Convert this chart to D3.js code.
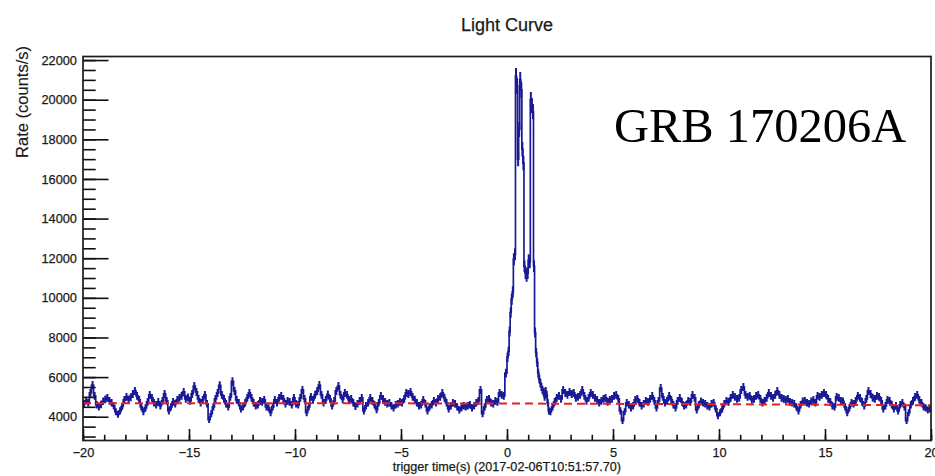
<!DOCTYPE html>
<html><head><meta charset="utf-8">
<script src="https://cdn.jsdelivr.net/npm/d3@7"></script>
<style>body{margin:0;background:#fff}</style>
</head><body><svg id="c" width="935" height="476"></svg>
<script>
// light curve, counts/s; pre-burst bins (-20 .. 0 s, 0.1 s)
const preBurst = [
4650,4820,4700,5200,5600,5050,4600,4500,4620,4780,
4880,4950,4800,4700,4550,4250,4120,4300,4520,4850,
5000,4880,4980,5150,5300,5050,4850,4500,4250,4450,
4750,5100,4950,4700,4600,4750,4550,4800,5150,4800,
4300,4500,4750,4650,4850,4950,5050,5250,4900,4980,
4800,5150,5550,5250,4900,4700,4850,5100,4650,3850,
4150,4500,4900,5200,5580,5100,4900,4650,4500,5000,
5780,5300,4850,4700,4400,4500,4700,4950,5200,4950,
4700,4550,4600,4800,4750,4850,4500,4450,4200,4500,
4850,4700,4950,5050,4900,4650,4800,4750,4600,4950,
4650,4600,4950,5350,4900,4200,4500,5000,4850,5100,
5300,5600,5100,4700,4850,5120,4900,4550,4800,5300,
5550,5100,4870,5200,5100,4850,4900,4700,4530,4650,
4800,4950,4300,4550,4700,4950,4800,4600,4360,4700,
5050,4900,4750,4650,4700,4550,4450,4600,4650,4750,
4700,4900,5200,5150,5250,5000,4870,4700,4550,4600,
4850,4650,4300,4500,4600,4800,4700,4900,5000,5200,
4950,4700,4400,4550,4700,4650,4500,4350,4450,4550,
4500,4550,4600,4450,4550,4700,4800,5350,4150,4500,
4850,4900,4700,4650,4800,4750,5200,5100,5050,6200];
// burst bins (0 .. 2 s, 0.05 s)
const burst = [
7000,7300,8300,9260,9930,10300,11950,12200,21200,20700,
17000,18500,21000,20500,17500,16800,11600,11250,11100,11250,
11900,11800,20000,19700,19400,11600,8250,7240,6740,6200,
5900,5700,5500,5350,5250,5000,5300,5100,4700,4300];
// post-burst bins (2 .. 20 s, 0.1 s)
const postBurst = [
4250,4500,4750,4950,5050,4900,5350,5200,5100,5250,
5150,5200,4950,5000,5100,5350,5050,4800,4950,5200,
5100,4950,4850,4700,4800,4900,4950,4750,4850,4900,
5050,5100,4900,4300,3800,4250,4700,4600,4450,4550,
4850,4900,4700,4550,4650,4800,4750,4900,5050,4800,
4450,4800,5450,5000,4700,4800,5050,4850,4600,4450,
4800,4950,4750,4550,4600,4800,4750,5100,4950,4350,
4600,4780,4700,4650,4550,4500,4650,4700,4400,4050,
4200,4400,4650,4800,4750,4950,5100,5000,4900,4950,
5350,5500,5100,5000,5050,4850,4900,5050,5100,4900,
4700,4800,4950,5200,5050,4950,5100,5300,5100,4950,
4900,4850,4900,4750,4700,4650,4500,4300,4600,4780,
4800,4700,4650,4780,4850,4700,5050,5000,5100,5200,
5100,4900,4750,4550,4500,5000,4950,4800,4780,4500,
4200,4450,4700,4650,4800,5050,4950,4750,4550,4900,
5300,5150,4950,4900,5050,5000,4800,4400,4550,4850,
4800,4600,4400,4550,4300,4600,4700,4500,3800,4200,
4600,4800,5000,5100,4850,4700,4500,4450,4350,4400];
const segments = [
  {values: preBurst, start: -20, dt: 0.1},
  {values: burst, start: 0, dt: 0.05},
  {values: postBurst, start: 2, dt: 0.1}
];
// background fit (red dashed)
const bkgT = [-20, -10, 0, 10, 20];
const bkgV = [4685, 4680, 4665, 4630, 4575];
const xTickValues = [-20, -15, -10, -5, 0, 5, 10, 15, 20];
const yTickValues = [4000, 6000, 8000, 10000, 12000, 14000, 16000, 18000, 20000, 22000];
const title = "Light Curve";
const xTitle = "trigger time(s) (2017-02-06T10:51:57.70)";
const yTitle = "Rate (counts/s)";
const label = "GRB 170206A";

const SANS = "'Liberation Sans', Arial, Helvetica, sans-serif";
const SERIF = "'Liberation Serif', 'Times New Roman', Times, serif";
const svg = d3.select("#c");
const L = 83, R = 931, T = 56.5, B = 440.5;
const x = d3.scaleLinear([-20, 20], [L, R]);
const y = d3.scaleLinear([2800, 22180], [B, T]);

svg.append("rect").attr("width", 935).attr("height", 476).attr("fill", "#fff");
svg.append("defs").append("clipPath").attr("id", "clip")
  .append("rect").attr("x", L).attr("y", T).attr("width", R - L).attr("height", B - T);

const bins = [];
segments.forEach(s => s.values.forEach((v, i) => bins.push({x0: s.start + i * s.dt, x1: s.start + (i + 1) * s.dt, v})));
const exposure = 0.13;
const err = v => Math.sqrt(v * exposure) / exposure;
const BLUE = "#1a1a96";

const g = svg.append("g").attr("clip-path", "url(#clip)");
// step line
let d = "";
bins.forEach((b, i) => {
  d += (i === 0 ? "M" : "L") + x(b.x0) + "," + y(b.v) + "L" + x(b.x1) + "," + y(b.v);
});
g.append("path").attr("d", d).attr("fill", "none").attr("stroke", BLUE).attr("stroke-width", 1.7);
// error bars
let e = "";
bins.forEach(b => {
  const cx = x((b.x0 + b.x1) / 2);
  e += "M" + cx + "," + y(b.v - err(b.v)) + "V" + y(b.v + err(b.v));
});
g.append("path").attr("d", e).attr("fill", "none").attr("stroke", BLUE).attr("stroke-width", 2);
// background fit
g.append("path").datum(bkgT.map((t, i) => [t, bkgV[i]]))
  .attr("d", d3.line().x(p => x(p[0])).y(p => y(p[1])).curve(d3.curveMonotoneX))
  .attr("fill", "none").attr("stroke", "#e42222").attr("stroke-width", 2).attr("stroke-dasharray", "8,5");

// axes
const fs = 12.8;
svg.append("g").attr("transform", `translate(0,${B})`)
  .call(d3.axisBottom(x).tickValues(xTickValues).tickSizeInner(-11.5).tickSizeOuter(0).tickPadding(7));
svg.append("g").attr("transform", `translate(0,${B})`)
  .call(d3.axisBottom(x).ticks(40).tickSizeInner(-5.7).tickSizeOuter(0).tickFormat(""));
svg.append("g").attr("transform", `translate(${L},0)`)
  .call(d3.axisLeft(y).tickValues(yTickValues).tickFormat(d3.format("d")).tickSizeInner(-25.5).tickSizeOuter(0).tickPadding(6));
svg.append("g").attr("transform", `translate(${L},0)`)
  .call(d3.axisLeft(y).tickValues(d3.range(3000, 22001, 500)).tickSizeInner(-12.7).tickSizeOuter(0).tickFormat(""));
svg.selectAll(".domain").remove();
svg.selectAll(".tick line").attr("stroke", "#111").attr("stroke-width", 1.6);
svg.selectAll(".tick text").style("font-size", fs + "px").style("font-family", SANS)
  .attr("fill", "#1a1a1a").attr("stroke", "#1a1a1a").attr("stroke-width", 0.25);

// frame
svg.append("rect").attr("x", L).attr("y", T).attr("width", R - L).attr("height", B - T)
  .attr("fill", "none").attr("stroke", "#1a1a1a").attr("stroke-width", 1.7);

// titles
function txt(sel) { return sel.style("font-family", SANS).attr("fill", "#1a1a1a").attr("stroke", "#1a1a1a").attr("stroke-width", 0.25); }
txt(svg.append("text")).attr("x", 507).attr("y", 31).attr("text-anchor", "middle")
  .style("font-size", "18px").text(title);
txt(svg.append("text")).attr("x", 621).attr("y", 471).attr("text-anchor", "end")
  .style("font-size", "12.6px").text(xTitle);
txt(svg.append("text")).attr("transform", "translate(28,46) rotate(-90)").attr("text-anchor", "end")
  .style("font-size", "16.5px").attr("stroke-width", 0.15).text(yTitle);
svg.append("text").attr("x", 614).attr("y", 142)
  .style("font-family", SERIF).style("font-size", "48.5px").attr("fill", "#000").text(label);
</script></body></html>
